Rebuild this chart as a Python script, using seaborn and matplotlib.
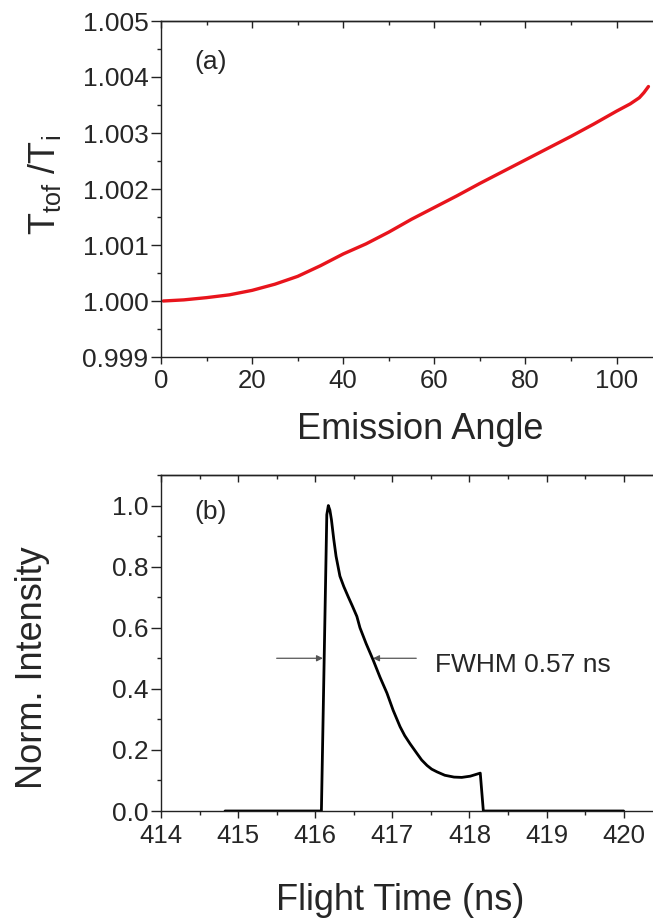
import matplotlib
matplotlib.use('Agg')
import matplotlib.pyplot as plt
import seaborn as sns
import pandas as pd
from matplotlib.ticker import MultipleLocator, FormatStrFormatter

# ---------------- data ----------------
angle = [0.5, 5, 10, 15, 20, 25, 30, 35, 40, 45, 50, 55, 60, 65, 70, 75,
         80, 85, 90, 95, 100, 103, 105, 106, 107]
ratio = [1.00000, 1.00002, 1.00006, 1.00011, 1.00019, 1.00030, 1.00044,
         1.00063, 1.00084, 1.00102, 1.00123, 1.00146, 1.00167, 1.00188,
         1.00210, 1.00231, 1.00252, 1.00273, 1.00294, 1.00316, 1.00339,
         1.00352, 1.00363, 1.00372, 1.00383]

flight_time = [414.83, 416.08, 416.15, 416.17, 416.19, 416.21, 416.24, 416.27,
               416.32, 416.37, 416.43, 416.48, 416.54, 416.58, 416.66, 416.75,
               416.84, 416.93, 417.01, 417.10, 417.16, 417.23, 417.32, 417.38,
               417.45, 417.51, 417.58, 417.68, 417.80, 417.90, 418.01, 418.14,
               418.18, 420.00]
intensity = [0.0, 0.0, 0.97, 1.0, 0.985, 0.954, 0.89, 0.834,
             0.769, 0.735, 0.70, 0.672, 0.637, 0.60, 0.548, 0.495,
             0.438, 0.386, 0.33, 0.276, 0.247, 0.22, 0.188, 0.167,
             0.149, 0.137, 0.128, 0.117, 0.111, 0.110, 0.114, 0.124,
             0.0, 0.0]

top_yticks = [0.999, 1.000, 1.001, 1.002, 1.003, 1.004, 1.005]
bot_xticks = [414, 415, 416, 417, 418, 419, 420]
bot_yticks = [0.0, 0.2, 0.4, 0.6, 0.8, 1.0]

df_a = pd.DataFrame({"angle": angle, "ratio": ratio})
df_b = pd.DataFrame({"t": flight_time, "I": intensity})

# ---------------- style ----------------
sns.set_style("ticks")
plt.rcParams['font.family'] = ['Liberation Sans', 'DejaVu Sans']
plt.rcParams['mathtext.fontset'] = 'custom'
plt.rcParams['mathtext.rm'] = 'Liberation Sans'
plt.rcParams['mathtext.it'] = 'Liberation Sans'
plt.rcParams['mathtext.default'] = 'regular'

W, H = 653, 922
fig = plt.figure(figsize=(W / 100, H / 100), dpi=100)
ax1 = fig.add_axes([161 / W, 1 - 357 / H, 1 - 161 / W, 336 / H])
ax2 = fig.add_axes([161 / W, 1 - 811 / H, 1 - 161 / W, 336 / H])

spine_col = '#222222'


def style_axes(ax, xmaj, xmin, ymaj, ymin):
    for s in ['left', 'bottom', 'top']:
        ax.spines[s].set_color(spine_col)
        ax.spines[s].set_linewidth(1.0)
    ax.spines['right'].set_visible(False)
    ax.xaxis.set_major_locator(MultipleLocator(xmaj))
    ax.xaxis.set_minor_locator(MultipleLocator(xmin))
    ax.yaxis.set_major_locator(MultipleLocator(ymaj))
    ax.yaxis.set_minor_locator(MultipleLocator(ymin))
    ax.tick_params(axis='y', which='major', direction='out', length=7,
                   width=1, color=spine_col, labelsize=19, pad=2)
    ax.tick_params(axis='y', which='minor', direction='out', length=3,
                   width=1, color=spine_col)
    ax.tick_params(axis='x', which='major', direction='out', length=5,
                   width=1, color=spine_col, labelsize=18.5, pad=4)
    ax.tick_params(axis='x', which='minor', direction='out', length=3,
                   width=1, color=spine_col)
    sec = ax.secondary_xaxis('top')
    sec.xaxis.set_major_locator(MultipleLocator(xmaj))
    sec.xaxis.set_minor_locator(MultipleLocator(xmin))
    sec.tick_params(which='major', direction='in', length=5, width=1,
                    color=spine_col, labeltop=False)
    sec.tick_params(which='minor', direction='in', length=3, width=1,
                    color=spine_col, labeltop=False)
    sec.spines['top'].set_color(spine_col)
    sec.spines['top'].set_linewidth(1.0)


# ---------------- panel (a) ----------------
sns.lineplot(data=df_a, x="angle", y="ratio", ax=ax1, color='#e8141c',
             linewidth=2.4)
ax1.set_xlim(0, 108)
ax1.set_ylim(0.999, 1.005)
style_axes(ax1, 20, 10, 0.001, 0.0005)
ax1.set_yticks(top_yticks)
ax1.yaxis.set_major_formatter(FormatStrFormatter('%.3f'))
ax1.set_xlabel("Emission Angle", fontsize=26, va='baseline')
ax1.xaxis.set_label_coords(0.526, -0.244)
ax1.set_ylabel(r"T$_{\rm tof}$ /T$_{\rm i}$", fontsize=26)
ax1.yaxis.set_label_coords(-0.20, 0.512)
ax1.text(0.067, 0.878, "(a)", transform=ax1.transAxes, fontsize=19,
         va='center', ha='left')

# ---------------- panel (b) ----------------
sns.lineplot(data=df_b, x="t", y="I", ax=ax2, color='black', linewidth=2.0)
ax2.set_xlim(414, 420.38)
ax2.set_ylim(0.0, 1.1)
style_axes(ax2, 1, 0.5, 0.2, 0.1)
ax2.set_xticks(bot_xticks)
ax2.set_yticks(bot_yticks)
ax2.yaxis.set_major_formatter(FormatStrFormatter('%.1f'))
ax2.set_xlabel("Flight Time (ns)", fontsize=26, va='baseline')
ax2.xaxis.set_label_coords(0.486, -0.295)
ax2.set_ylabel("Norm. Intensity", fontsize=26)
ax2.yaxis.set_label_coords(-0.226, 0.426)
ax2.text(0.067, 0.89, "(b)", transform=ax2.transAxes, fontsize=19,
         va='center', ha='left')

arrow_kw = dict(arrowstyle='-|>', color='#555555', lw=0.9,
                mutation_scale=9, shrinkA=0, shrinkB=0)
ax2.annotate('', xy=(416.10, 0.5), xytext=(415.50, 0.5), arrowprops=arrow_kw)
ax2.annotate('', xy=(416.75, 0.5), xytext=(417.31, 0.5), arrowprops=arrow_kw)
ax2.text(417.55, 0.454, "FWHM 0.57 ns", fontsize=19, va='baseline',
         ha='left')

fig.savefig("out.png", dpi=100)
